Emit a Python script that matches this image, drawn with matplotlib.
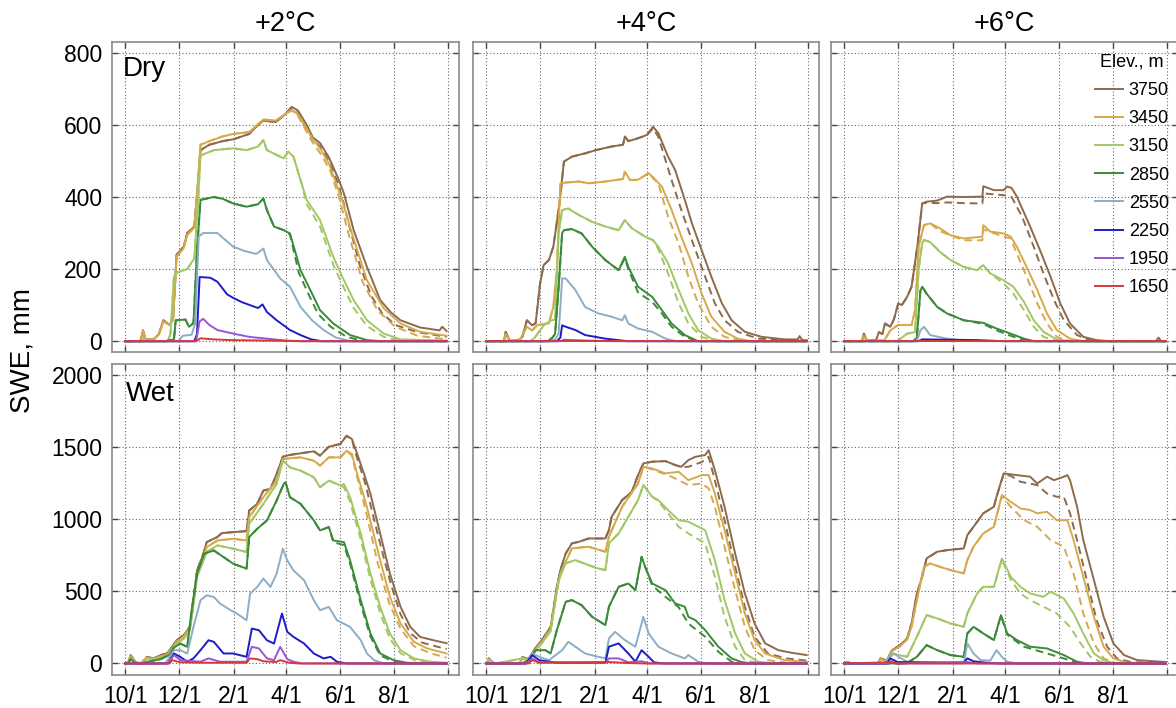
import matplotlib
matplotlib.use("Agg")
import matplotlib.pyplot as plt
from matplotlib.lines import Line2D

plt.rcParams['font.family'] = ['Liberation Sans', 'DejaVu Sans']

ELEVS = [3750, 3450, 3150, 2850, 2550, 2250, 1950, 1650]
COLORS = ['#8c6a4c', '#d6a94c', '#a2c764', '#3a8a3a', '#8cadc6', '#1c1cc8', '#9a55d2', '#d43a3a']
SCENARIOS = ['+2°C', '+4°C', '+6°C']
TICK_DAYS = [0, 61, 123, 182, 243, 304, 365]       # days after 10/1
TICK_LABELS = ['10/1', '12/1', '2/1', '4/1', '6/1', '8/1', '']

# SWE (mm) as (day after 10/1, value) vertices, one list per elevation band.
# *_dash holds only the part of the dashed run that departs from the solid one.
dry2 = {
    3750: [(0,0),(17,0),(20,30),(23,5),(32,5),(38,20),(43,58),(50,45),(54,62),(58,240),(66,262),(70,300),(78,318),(82,430),(85,530),(95,545),(110,555),(122,560),(140,575),(150,600),(156,612),(170,608),(180,628),(188,650),(195,640),(205,600),(212,565),(220,550),(230,510),(240,455),(247,410),(258,308),(273,206),(288,114),(300,80),(311,58),(333,38),(355,30),(358,40),(363,28)],
    3450: [(0,0),(17,0),(20,28),(23,5),(32,5),(38,18),(43,55),(50,45),(54,60),(58,235),(66,258),(70,295),(78,315),(82,440),(85,545),(95,555),(110,568),(122,575),(140,580),(150,602),(156,615),(170,612),(182,632),(188,642),(195,630),(205,590),(212,560),(220,535),(230,493),(245,392),(256,299),(273,169),(292,91),(311,49),(333,26),(363,15)],
    3150: [(0,0),(18,0),(21,10),(25,0),(48,0),(51,20),(55,180),(58,190),(70,200),(78,230),(82,380),(85,515),(100,530),(122,535),(137,530),(150,540),(156,558),(160,530),(179,507),(184,526),(190,512),(198,447),(205,392),(220,336),(235,234),(247,169),(258,114),(273,58),(292,21),(311,5),(363,2)],
    2850: [(0,0),(45,0),(55,5),(57,58),(68,60),(72,40),(77,50),(81,250),(85,392),(100,400),(110,395),(122,382),(137,373),(150,380),(156,396),(160,364),(168,318),(179,308),(186,299),(198,197),(211,132),(220,86),(235,49),(254,17),(273,3),(290,0),(363,0)],
    2550: [(0,0),(60,0),(65,15),(75,18),(79,50),(83,290),(88,300),(104,300),(122,262),(135,250),(148,242),(156,257),(160,225),(175,174),(186,151),(198,95),(211,58),(224,31),(238,10),(255,0),(363,0)],
    2250: [(0,0),(78,0),(81,20),(84,178),(96,176),(104,165),(115,130),(122,120),(132,108),(141,100),(150,92),(155,102),(160,81),(171,58),(180,42),(186,31),(198,17),(210,5),(222,0),(363,0)],
    1950: [(0,0),(80,0),(84,55),(88,62),(95,45),(104,31),(122,21),(140,12),(160,7),(180,2),(200,0),(363,0)],
    1650: [(0,0),(80,0),(85,8),(100,5),(120,3),(150,2),(200,0),(363,0)],
}
dry2_dash = {
    3750: [(188,648),(195,630),(205,590),(212,560),(220,540),(230,500),(240,440),(247,380),(252,330),(265,210),(278,125),(290,78),(305,45),(330,25),(363,12)],
    3450: [(188,640),(195,625),(205,580),(212,550),(222,515),(232,470),(242,395),(252,300),(268,165),(285,85),(305,40),(330,15),(363,5)],
    3150: [(190,512),(200,430),(205,380),(220,318),(235,212),(247,148),(258,92),(273,42),(292,12),(311,0),(363,0)],
    2850: [(186,296),(196,190),(208,125),(218,75),(232,40),(250,12),(270,0),(363,0)],
}

dry4 = {
    3750: [(0,0),(20,0),(22,26),(26,5),(29,0),(38,5),(41,12),(46,58),(52,44),(56,50),(61,160),(65,211),(71,225),(76,262),(83,382),(88,498),(97,512),(112,521),(124,530),(142,540),(155,545),(157,568),(161,555),(172,563),(182,572),(189,595),(195,577),(206,512),(214,475),(225,392),(233,327),(244,253),(255,179),(267,105),(278,58),(293,26),(312,12),(338,5),(353,5),(355,14),(358,3),(363,3)],
    3450: [(0,0),(20,0),(22,20),(26,3),(38,3),(46,40),(52,30),(58,45),(71,50),(76,95),(80,200),(84,438),(90,440),(105,443),(116,438),(135,443),(155,450),(157,470),(163,447),(172,448),(184,466),(189,455),(199,429),(210,364),(221,290),(233,216),(244,132),(255,68),(270,26),(285,7),(300,0),(363,0)],
    3150: [(0,0),(50,0),(55,10),(65,44),(74,58),(78,60),(82,300),(86,364),(93,368),(105,350),(120,331),(135,318),(150,308),(157,336),(165,313),(180,290),(189,280),(195,262),(206,216),(218,142),(229,77),(240,31),(255,7),(270,0),(363,0)],
    2850: [(0,0),(70,0),(75,10),(78,20),(82,150),(86,300),(88,308),(97,311),(108,299),(120,262),(135,225),(150,197),(157,234),(161,206),(172,151),(188,123),(199,86),(210,49),(225,17),(240,0),(363,0)],
    2550: [(0,0),(72,0),(78,5),(82,20),(86,174),(90,174),(101,142),(112,95),(127,77),(142,68),(154,58),(157,72),(161,49),(172,35),(188,26),(203,7),(215,0),(363,0)],
    2250: [(0,0),(80,0),(84,10),(86,44),(90,40),(101,31),(112,17),(135,7),(160,0),(363,0)],
    1950: [(0,0),(84,0),(88,4),(110,2),(140,0),(363,0)],
    1650: [(0,0),(363,0)],
}
dry4_dash = {
    3750: [(189,590),(195,567),(210,447),(221,364),(233,280),(248,179),(259,105),(270,58),(285,26),(308,7),(363,0)],
    3450: [(189,452),(195,438),(206,345),(218,271),(229,179),(240,105),(255,40),(270,12),(290,0),(363,0)],
    3150: [(195,255),(206,188),(218,105),(229,49),(244,12),(260,0),(363,0)],
    2850: [(157,230),(161,200),(172,135),(188,109),(199,77),(210,40),(225,12),(240,0),(363,0)],
}

dry6 = {
    3750: [(0,0),(20,0),(22,21),(25,3),(36,3),(39,25),(43,20),(46,49),(52,40),(56,60),(61,105),(65,100),(71,123),(76,151),(83,271),(88,382),(93,387),(105,390),(116,401),(135,400),(156,401),(157,430),(169,419),(180,419),(184,429),(189,425),(195,401),(210,318),(221,253),(233,179),(244,105),(255,49),(270,12),(285,3),(300,0),(352,0),(355,10),(358,0),(363,0)],
    3450: [(0,0),(20,0),(22,15),(25,2),(45,2),(52,30),(61,45),(76,45),(80,86),(84,262),(90,322),(97,327),(108,313),(120,294),(135,285),(156,290),(157,322),(165,304),(180,299),(188,290),(195,262),(206,206),(218,142),(229,77),(240,31),(255,7),(270,0),(363,0)],
    3150: [(0,0),(60,0),(71,21),(80,25),(84,200),(88,271),(90,281),(97,275),(108,248),(120,225),(135,206),(150,197),(157,211),(165,188),(180,169),(191,151),(203,109),(214,58),(225,26),(240,5),(255,0),(363,0)],
    2850: [(0,0),(78,0),(82,10),(86,140),(88,151),(93,132),(105,95),(116,77),(135,58),(157,51),(172,35),(188,21),(203,7),(215,0),(363,0)],
    2550: [(0,0),(82,0),(86,30),(90,40),(97,17),(116,7),(135,2),(150,0),(363,0)],
    2250: [(0,0),(84,0),(88,5),(150,3),(180,0),(363,0)],
    1950: [(0,0),(363,0)],
    1650: [(0,0),(363,0)],
}
dry6_dash = {
    3750: [(93,384),(105,383),(116,385),(135,383),(156,382),(157,410),(180,405),(189,400),(201,345),(214,262),(225,188),(237,114),(248,58),(263,17),(280,0),(363,0)],
    3450: [(108,305),(135,280),(156,280),(157,310),(180,290),(188,285),(195,243),(206,179),(218,105),(229,49),(240,12),(255,0),(363,0)],
    3150: [(180,160),(191,132),(203,86),(214,40),(225,12),(240,0),(363,0)],
    2850: [(157,48),(172,30),(188,15),(203,3),(215,0),(363,0)],
}

wet2 = {
    3750: [(0,0),(3,0),(6,58),(11,12),(17,0),(21,0),(24,46),(32,35),(40,58),(47,69),(53,115),(58,161),(66,196),(73,253),(77,438),(81,645),(87,737),(92,841),(104,876),(109,903),(122,910),(137,917),(140,1060),(149,1106),(156,1198),(164,1210),(171,1313),(178,1433),(186,1445),(198,1456),(213,1470),(220,1440),(230,1502),(243,1521),(250,1578),(256,1555),(262,1452),(271,1290),(277,1175),(288,899),(299,622),(311,392),(322,253),(333,184),(348,161),(363,140)],
    3450: [(0,0),(3,0),(6,50),(11,10),(17,0),(24,40),(32,30),(40,50),(47,60),(53,105),(58,150),(66,185),(73,245),(77,420),(81,622),(92,806),(104,852),(122,864),(137,852),(140,1014),(156,1152),(171,1267),(178,1417),(198,1428),(213,1405),(220,1371),(230,1428),(243,1428),(250,1474),(256,1452),(262,1313),(273,1083),(288,714),(299,461),(311,276),(326,150),(341,104),(363,69)],
    3150: [(0,0),(3,0),(6,40),(11,8),(17,0),(24,30),(40,40),(47,50),(53,95),(58,140),(66,170),(73,230),(77,410),(81,600),(92,772),(104,818),(122,795),(137,772),(140,968),(156,1106),(171,1244),(178,1405),(186,1359),(198,1336),(213,1290),(220,1221),(230,1267),(243,1233),(247,1244),(254,1152),(266,899),(277,622),(288,392),(299,207),(311,92),(326,35),(345,12),(363,5)],
    2850: [(0,0),(3,0),(6,30),(11,5),(17,0),(40,30),(50,60),(55,110),(62,138),(70,115),(75,369),(81,622),(89,760),(100,783),(111,737),(122,691),(137,657),(140,876),(149,933),(160,991),(171,1129),(179,1244),(181,1256),(186,1152),(198,1106),(213,991),(220,922),(230,945),(235,852),(247,841),(254,714),(266,438),(277,207),(288,69),(303,23),(318,5),(363,0)],
    2550: [(0,0),(45,0),(55,92),(62,92),(70,69),(77,253),(85,438),(92,472),(100,461),(107,415),(119,369),(126,346),(137,300),(141,484),(149,530),(156,588),(164,530),(171,622),(178,795),(183,714),(190,645),(202,576),(213,438),(220,369),(230,392),(239,300),(254,253),(266,161),(273,69),(281,23),(292,0),(363,0)],
    2250: [(0,0),(48,0),(55,69),(62,46),(70,12),(77,35),(85,92),(94,161),(100,150),(111,69),(122,69),(137,46),(143,242),(151,230),(160,161),(168,138),(177,346),(183,219),(190,184),(202,138),(213,69),(224,35),(232,46),(239,12),(250,0),(363,0)],
    1950: [(0,0),(48,0),(55,58),(62,23),(85,12),(94,35),(107,12),(137,12),(143,115),(151,104),(160,35),(168,23),(175,115),(183,30),(190,12),(200,0),(363,0)],
    1650: [(0,0),(50,0),(53,23),(62,8),(85,5),(137,5),(141,35),(149,30),(156,15),(170,10),(175,23),(185,5),(195,0),(363,0)],
}
wet2_dash = {
    3750: [(256,1550),(262,1420),(271,1250),(281,1000),(290,780),(300,550),(311,340),(322,210),(335,145),(350,120),(363,100)],
    3450: [(256,1440),(262,1290),(272,1050),(285,700),(298,420),(311,240),(326,120),(345,70),(363,40)],
    3150: [(247,1220),(254,1120),(266,860),(277,580),(288,350),(299,170),(311,70),(330,15),(363,0)],
    2850: [(235,840),(247,820),(254,690),(266,410),(277,185),(288,55),(303,15),(318,0),(363,0)],
}

wet4 = {
    3750: [(0,0),(1,0),(3,35),(8,5),(11,0),(38,0),(41,46),(48,30),(54,92),(63,162),(73,254),(80,531),(84,647),(90,762),(97,832),(105,843),(116,866),(135,866),(139,924),(142,1016),(154,1132),(165,1190),(172,1305),(178,1386),(188,1398),(203,1402),(214,1375),(221,1363),(229,1409),(237,1432),(248,1444),(252,1478),(259,1340),(270,1086),(282,762),(293,485),(304,277),(316,139),(331,92),(346,74),(363,58)],
    3450: [(0,0),(1,0),(3,30),(8,4),(11,0),(38,0),(41,40),(48,25),(54,85),(63,150),(73,240),(80,500),(84,624),(97,797),(116,809),(135,774),(139,878),(154,1086),(172,1247),(178,1363),(188,1351),(203,1317),(218,1328),(229,1270),(244,1305),(252,1305),(259,1178),(270,924),(282,624),(293,347),(304,162),(316,69),(338,23),(363,10)],
    3150: [(0,0),(1,0),(3,25),(8,3),(11,0),(41,35),(48,20),(54,80),(63,140),(73,225),(82,578),(90,693),(101,716),(116,681),(127,658),(135,647),(139,832),(150,901),(161,1016),(172,1132),(178,1236),(188,1155),(195,1132),(206,1063),(218,993),(229,982),(233,970),(248,924),(259,716),(270,439),(282,208),(293,69),(308,12),(325,0),(363,0)],
    2850: [(0,0),(40,0),(48,20),(56,92),(67,92),(73,69),(80,231),(90,427),(97,439),(108,404),(120,323),(135,266),(139,393),(150,531),(161,554),(169,508),(176,739),(180,670),(188,554),(203,508),(214,416),(225,393),(229,323),(237,300),(248,231),(263,116),(278,35),(289,10),(300,0),(363,0)],
    2550: [(0,0),(45,0),(52,69),(60,46),(71,23),(86,92),(93,150),(101,116),(112,69),(124,50),(135,35),(139,173),(146,219),(157,162),(169,116),(178,323),(184,208),(195,116),(210,69),(225,35),(229,58),(240,12),(250,0),(363,0)],
    2250: [(0,0),(45,0),(52,58),(60,23),(80,5),(135,5),(139,116),(150,139),(161,69),(169,12),(176,92),(184,46),(190,8),(200,0),(363,0)],
    1950: [(0,0),(45,0),(52,35),(60,8),(135,5),(139,35),(150,35),(161,8),(176,15),(185,0),(363,0)],
    1650: [(0,0),(48,0),(52,23),(60,5),(139,10),(160,3),(180,0),(363,0)],
}
wet4_dash = {
    3750: [(221,1360),(229,1363),(244,1395),(252,1432),(259,1270),(270,993),(282,670),(293,393),(304,185),(319,69),(340,35),(363,20)],
    3450: [(188,1345),(210,1294),(229,1236),(244,1247),(252,1213),(259,1086),(270,809),(282,508),(293,254),(304,92),(319,23),(340,5),(363,0)],
    3150: [(195,1125),(218,947),(229,901),(248,832),(259,601),(270,323),(282,116),(293,23),(310,0),(363,0)],
    2850: [(188,540),(203,462),(218,390),(229,277),(248,185),(263,81),(278,12),(290,0),(363,0)],
}

wet6 = {
    3750: [(0,0),(1,0),(3,12),(8,0),(38,0),(41,35),(48,20),(54,92),(63,127),(71,173),(76,277),(82,485),(88,601),(93,728),(105,774),(116,785),(135,797),(139,889),(146,947),(157,1040),(169,1086),(172,1155),(180,1317),(195,1305),(210,1294),(218,1247),(229,1294),(237,1270),(248,1294),(252,1305),(255,1270),(263,1086),(270,855),(282,578),(293,323),(304,139),(316,58),(331,23),(363,10)],
    3450: [(0,0),(1,0),(3,10),(8,0),(38,0),(41,30),(48,15),(54,85),(63,120),(71,165),(76,254),(82,439),(90,670),(97,693),(108,670),(120,647),(135,624),(139,716),(146,809),(157,901),(169,947),(178,1167),(188,1120),(199,1074),(210,1063),(218,1040),(229,1051),(240,993),(252,993),(259,855),(270,601),(282,323),(293,116),(304,35),(320,5),(363,0)],
    3150: [(0,0),(45,0),(54,69),(71,46),(82,185),(93,335),(105,312),(120,277),(135,254),(139,347),(150,485),(157,531),(169,531),(178,728),(188,601),(199,531),(210,485),(225,462),(233,497),(248,450),(259,347),(270,208),(282,69),(293,23),(305,0),(363,0)],
    2850: [(0,0),(70,0),(82,46),(93,127),(105,92),(120,58),(135,46),(139,208),(146,254),(157,208),(169,162),(177,335),(184,208),(195,162),(210,116),(229,104),(248,58),(263,12),(275,0),(363,0)],
    2550: [(0,0),(45,0),(52,46),(56,69),(63,40),(71,12),(80,0),(135,0),(139,139),(146,69),(154,23),(165,20),(172,92),(178,46),(184,12),(195,0),(363,0)],
    2250: [(0,0),(48,0),(52,35),(60,10),(135,5),(139,35),(146,15),(160,5),(175,0),(363,0)],
    1950: [(0,0),(50,0),(52,15),(60,0),(139,10),(150,0),(363,0)],
    1650: [(0,0),(52,8),(60,0),(363,0)],
}
wet6_dash = {
    3750: [(180,1310),(188,1300),(199,1259),(218,1236),(229,1178),(240,1155),(248,1155),(255,1040),(263,855),(274,578),(285,300),(297,116),(308,35),(325,8),(363,5)],
    3450: [(178,1160),(188,1086),(203,993),(218,947),(233,855),(248,809),(259,624),(270,347),(282,139),(293,35),(305,5),(363,0)],
    3150: [(178,720),(188,580),(199,485),(210,439),(225,393),(240,347),(255,254),(267,139),(278,46),(289,12),(300,0),(363,0)],
    2850: [(184,200),(195,150),(203,116),(229,69),(248,35),(259,12),(270,0),(363,0)],
}

PANELS = [[(dry2, dry2_dash), (dry4, dry4_dash), (dry6, dry6_dash)],
          [(wet2, wet2_dash), (wet4, wet4_dash), (wet6, wet6_dash)]]

W, H = 1176, 708
fig = plt.figure(figsize=(W / 100, H / 100), dpi=100)

col_x = [(112, 347), (473, 346), (831, 347)]
row_y = [(42, 310), (364, 311)]
yticks = [[0, 200, 400, 600, 800], [0, 500, 1000, 1500, 2000]]
ylims = [(-30, 830), (-80, 2075)]


def draw_panel(ax, solid, dashed):
    for elev, col in zip(ELEVS, COLORS):
        pts = solid[elev]
        if elev in dashed:
            tail = dashed[elev]
            d_pts = [p for p in pts if p[0] < tail[0][0]] + tail
            xs, ys = zip(*d_pts)
            ax.plot(xs, ys, color=col, lw=1.4, ls=(0, (4, 2.5)))
        xs, ys = zip(*pts)
        ax.plot(xs, ys, color=col, lw=1.4, label=str(elev))


axes = []
for r, (top, h) in enumerate(row_y):
    row = []
    for c, (left, w) in enumerate(col_x):
        ax = fig.add_axes([left / W, 1 - (top + h) / H, w / W, h / H])
        solid, dashed = PANELS[r][c]
        draw_panel(ax, solid, dashed)

        ax.set_xlim(-15, 377)
        ax.set_ylim(*ylims[r])
        ax.set_xticks(TICK_DAYS)
        ax.set_yticks(yticks[r])
        ax.set_xticklabels(TICK_LABELS if r == 1 else [])
        if c == 0:
            ax.set_yticklabels([str(v) for v in yticks[r]])
        else:
            ax.set_yticklabels([])

        ax.grid(True, ls=(0, (1, 2)), color='#666666', lw=0.8)
        ax.tick_params(direction='in', top=True, right=True, length=4,
                       width=1, color='#444444', labelsize=16.5, pad=7)
        for sp in ax.spines.values():
            sp.set_color('#8a8a8a')
            sp.set_linewidth(1.2)
        if r == 0:
            ax.set_title(SCENARIOS[c], fontsize=19.5, pad=8)
        row.append(ax)
    axes.append(row)

axes[0][0].text(0.03, 0.955, 'Dry', fontsize=20, va='top',
                transform=axes[0][0].transAxes)
axes[1][0].text(0.04, 0.945, 'Wet', fontsize=20, va='top',
                transform=axes[1][0].transAxes)

handles = [Line2D([], [], color=col, lw=1.4) for col in COLORS]
leg = axes[0][2].legend(handles, [str(e) for e in ELEVS], title='Elev., m',
                        loc='upper right', bbox_to_anchor=(1.0, 0.991),
                        frameon=False, fontsize=13, title_fontsize=13,
                        handlelength=1.55, handletextpad=0.3,
                        labelspacing=0.62, borderpad=0)

fig.text(0.019, 0.505, 'SWE, mm', rotation=90, fontsize=20,
         va='center', ha='center')

fig.savefig('out.png', dpi=100)
